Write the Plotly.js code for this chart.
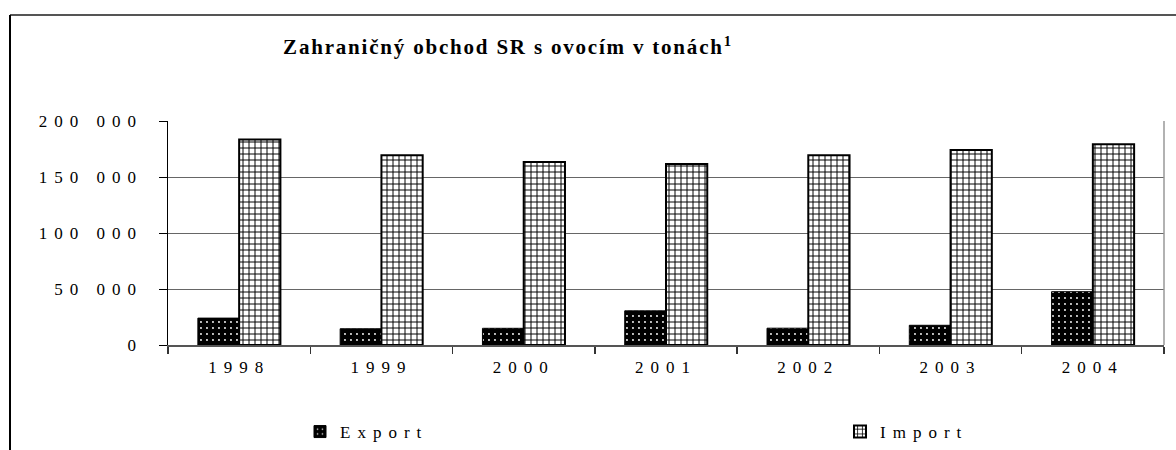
<!DOCTYPE html>
<html>
<head>
<meta charset="utf-8">
<script src="https://cdn.plot.ly/plotly-3.0.1.min.js"></script>
<style>
  html, body { margin: 0; padding: 0; background: #fff; }
  #chart { width: 1176px; height: 450px; }
  .gtitle { letter-spacing: 1.8px; }
  .xtick text, .ytick text, .legendtext { letter-spacing: 7px; }
</style>
</head>
<body>
<div id="chart"></div>
<script>
const years = ['1998', '1999', '2000', '2001', '2002', '2003', '2004'];
const exportVals = [24000, 14500, 14900, 30500, 15000, 17600, 47600];
const importVals = [183500, 169400, 163500, 161500, 169500, 174100, 179200];
const yTickVals = [0, 50000, 100000, 150000, 200000];
const yTickText = ['0', '50 000', '100 000', '150 000', '200 000'];
const titleText = 'Zahraničný obchod SR s ovocím v tonách<sup>1</sup>';

const serif = 'Liberation Serif, Times New Roman, serif';

const traces = [
  {
    type: 'bar', name: 'Export', x: years, y: exportVals, legendwidth: 495,
    marker: {
      color: '#000',
      line: { color: '#000', width: 1 },
      pattern: { shape: '.', bgcolor: '#000', fgcolor: '#fff', size: 6, solidity: 0.08, fillmode: 'replace' }
    }
  },
  {
    type: 'bar', name: 'Import', x: years, y: importVals,
    marker: {
      color: '#fff',
      line: { color: '#000', width: 2 },
      pattern: { shape: '+', bgcolor: '#fff', fgcolor: '#000', size: 6, solidity: 0.3, fillmode: 'replace' }
    }
  }
];

// plot area: x 168..1164, y 121..345
const px = v => (v - 168) / 996;
const py = v => (345 - v) / 224;

const layout = {
  width: 1176, height: 450,
  margin: { l: 168, r: 12, t: 121, b: 105, pad: 0, autoexpand: false },
  paper_bgcolor: '#fff', plot_bgcolor: '#fff',
  font: { family: serif, size: 17, color: '#000' },
  title: {
    text: titleText,
    font: { family: serif, size: 21, weight: 700, color: '#000' },
    xref: 'container', x: 508 / 1176, xanchor: 'center',
    yref: 'container', y: 1 - 47 / 450, yanchor: 'middle'
  },
  barmode: 'group', bargap: 0.42, bargroupgap: 0,
  xaxis: {
    type: 'category', tickson: 'boundaries', ticks: 'outside', ticklen: 7, tickcolor: '#333', tickwidth: 1.5,
    showline: true, linecolor: '#555', linewidth: 1.5, showgrid: false,
    tickfont: { family: serif, size: 17, color: '#000' }, ticklabelstandoff: 6
  },
  yaxis: {
    range: [0, 200000], tickvals: yTickVals, ticktext: yTickText,
    ticks: 'outside', ticklen: 8, tickcolor: '#000', tickwidth: 1,
    showline: true, linecolor: '#000', linewidth: 1.5,
    showgrid: true, gridcolor: '#666', gridwidth: 1, zeroline: false,
    tickfont: { family: serif, size: 17, color: '#000' }, ticklabelstandoff: 12
  },
  showlegend: true,
  legend: {
    orientation: 'h', x: px(300), xanchor: 'left', y: py(432), yanchor: 'middle',
    bgcolor: 'rgba(0,0,0,0)', traceorder: 'normal',
    font: { family: serif, size: 17, color: '#000' }
  },
  shapes: [
    { type: 'line', xref: 'paper', yref: 'paper', x0: 1, x1: 1, y0: 0, y1: 1, line: { color: '#999', width: 1.5 } },
    { type: 'line', xref: 'paper', yref: 'paper', x0: px(10), x1: px(1176), y0: py(15), y1: py(15), line: { color: '#555', width: 2 } },
    { type: 'line', xref: 'paper', yref: 'paper', x0: px(10), x1: px(10), y0: py(15), y1: py(452), line: { color: '#000', width: 2 } }
  ]
};

Plotly.newPlot('chart', traces, layout, { staticPlot: true, displayModeBar: false });
</script>
</body>
</html>
